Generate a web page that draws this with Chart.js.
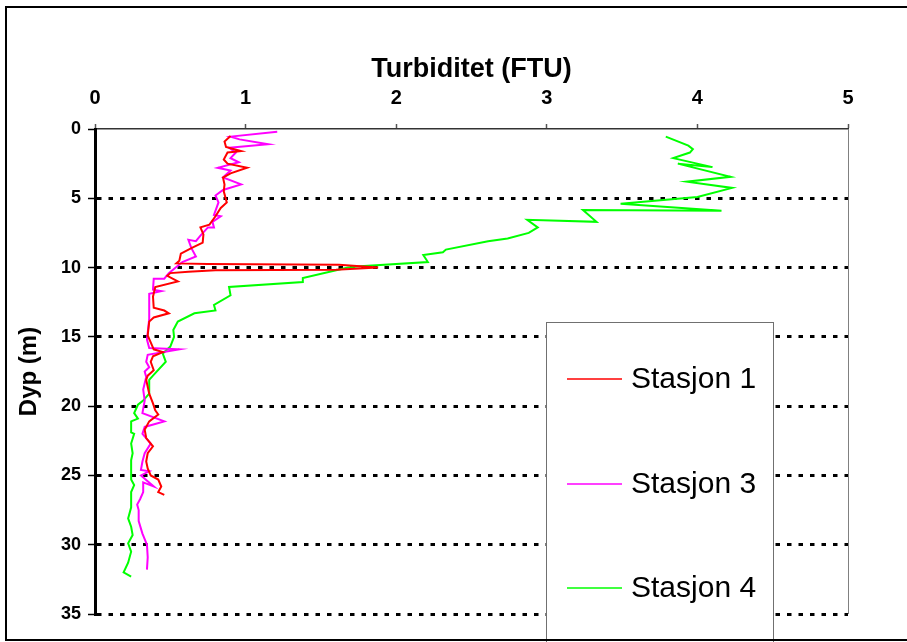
<!DOCTYPE html>
<html>
<head>
<meta charset="utf-8">
<script src="https://cdn.jsdelivr.net/npm/chart.js@4.4.0/dist/chart.umd.min.js"></script>
<style>
  html, body { margin: 0; padding: 0; background: white; }
  #wrap { width: 907px; height: 642px; }
</style>
</head>
<body>
<div id="wrap"><canvas id="turb" width="907" height="642"></canvas></div>
<script>
// depth (m) and turbidity (FTU)
var depth1 = [0.5, 0.9, 1.3, 1.6, 1.7, 2.2, 2.5, 2.8, 3.2, 3.5, 4.0, 4.5, 5.3, 5.7, 6.3, 6.9, 7.1, 7.6, 8.2, 8.6, 9.0, 9.5, 9.7, 9.75, 9.8, 10.0, 10.15, 10.2, 10.3, 10.4, 10.6, 11.0, 11.4, 12.1, 12.9, 13.1, 13.3, 13.6, 13.9, 14.9, 15.4, 15.9, 16.1, 16.4, 16.8, 17.4, 17.8, 18.1, 19.1, 19.8, 20.3, 20.6, 21.1, 21.7, 22.3, 22.9, 23.4, 24.0, 24.5, 25.0, 25.3, 25.8, 26.2, 26.4];
var turb1 = [0.90, 0.86, 0.87, 0.97, 0.88, 0.855, 0.88, 1.01, 0.90, 0.85, 0.86, 0.855, 0.875, 0.835, 0.80, 0.76, 0.70, 0.72, 0.715, 0.64, 0.57, 0.56, 0.54, 0.75, 1.62, 1.88, 1.60, 0.80, 0.62, 0.50, 0.48, 0.55, 0.40, 0.385, 0.39, 0.46, 0.49, 0.39, 0.36, 0.35, 0.37, 0.39, 0.45, 0.385, 0.37, 0.39, 0.35, 0.34, 0.36, 0.385, 0.40, 0.42, 0.36, 0.33, 0.34, 0.385, 0.35, 0.34, 0.35, 0.37, 0.42, 0.44, 0.42, 0.46];

var depth3 = [0.2, 0.55, 0.75, 1.1, 1.35, 1.7, 2.1, 2.4, 2.8, 3.0, 3.5, 4.0, 4.4, 4.8, 5.3, 6.2, 6.3, 6.7, 7.1, 7.1, 7.7, 8.1, 8.0, 8.6, 9.2, 9.6, 10.4, 10.8, 10.8, 11.6, 11.7, 11.9, 13.7, 15.2, 15.8, 15.9, 16.3, 16.8, 17.2, 17.5, 17.9, 18.8, 19.6, 20.5, 21.1, 21.5, 22.0, 22.7, 23.4, 24.0, 24.6, 24.7, 25.0, 25.1, 25.8, 25.5, 26.2, 26.7, 27.1, 27.5, 28.3, 29.2, 30.0, 30.9, 31.8];
var turb3 = [1.21, 0.90, 0.96, 1.15, 0.89, 0.935, 0.90, 0.955, 0.815, 0.90, 0.85, 0.97, 0.85, 0.80, 0.82, 0.79, 0.835, 0.78, 0.79, 0.75, 0.70, 0.67, 0.62, 0.64, 0.67, 0.58, 0.49, 0.46, 0.39, 0.385, 0.44, 0.36, 0.36, 0.345, 0.36, 0.56, 0.35, 0.34, 0.36, 0.33, 0.34, 0.32, 0.33, 0.315, 0.46, 0.33, 0.315, 0.37, 0.33, 0.315, 0.305, 0.36, 0.305, 0.315, 0.39, 0.32, 0.32, 0.30, 0.28, 0.29, 0.29, 0.315, 0.345, 0.35, 0.345];

var depth4 = [0.55, 1.2, 1.45, 1.7, 2.1, 2.75, 2.5, 3.45, 3.8, 4.25, 4.9, 5.4, 5.9, 5.85, 6.7, 6.55, 7.1, 7.5, 7.9, 8.1, 8.7, 8.9, 9.1, 9.6, 9.9, 10.0, 10.75, 11.05, 11.4, 12.0, 12.7, 13.1, 13.3, 13.9, 14.5, 15.0, 15.7, 16.2, 16.8, 17.8, 18.1, 19.1, 19.6, 19.9, 20.5, 20.9, 21.1, 21.9, 22.0, 22.7, 23.4, 23.9, 25.3, 25.7, 26.2, 27.3, 28.1, 28.7, 29.3, 29.9, 30.5, 31.3, 32.0, 32.3];
var turb4 = [3.79, 3.94, 3.97, 3.95, 3.84, 4.10, 3.87, 4.22, 3.93, 4.23, 4.00, 3.49, 4.16, 3.24, 3.33, 2.87, 2.94, 2.88, 2.74, 2.61, 2.33, 2.31, 2.18, 2.21, 1.76, 1.68, 1.38, 1.38, 0.89, 0.90, 0.79, 0.80, 0.66, 0.55, 0.52, 0.525, 0.50, 0.45, 0.47, 0.385, 0.36, 0.36, 0.32, 0.285, 0.26, 0.285, 0.24, 0.24, 0.26, 0.24, 0.25, 0.24, 0.24, 0.26, 0.24, 0.24, 0.22, 0.24, 0.25, 0.22, 0.24, 0.22, 0.19, 0.24];

var seriesNames = ["Stasjon 1", "Stasjon 3", "Stasjon 4"];
var seriesColors = ["#ff0000", "#ff00ff", "#00ff00"];
var depthTicks = [0, 5, 10, 15, 20, 25, 30, 35];
var turbTicks = [0, 1, 2, 3, 4, 5];

function pts(d, t) {
    return d.map(function (v, i) { return {x: t[i], y: v}; });
}

var frame = {
    id: 'frame',
    afterDraw: function (chart) {
        var ctx = chart.ctx, a = chart.chartArea;
        ctx.save();
        // right edge of the plot area
        ctx.strokeStyle = '#808080';
        ctx.lineWidth = 1;
        ctx.beginPath();
        ctx.moveTo(a.right + 0.5, a.top);
        ctx.lineTo(a.right + 0.5, a.bottom);
        ctx.stroke();

        // legend box
        var bx = 546, by = 322, bw = 227, bh = 340;
        ctx.fillStyle = 'white';
        ctx.fillRect(bx, by, bw, bh);
        ctx.strokeStyle = '#707070';
        ctx.lineWidth = 1;
        ctx.strokeRect(bx + 0.5, by + 0.5, bw, bh);
        var rows = [379, 484, 588];
        ctx.font = '30px "Liberation Sans", Arial, sans-serif';
        ctx.textBaseline = 'middle';
        chart.data.datasets.forEach(function (ds, i) {
            ctx.strokeStyle = ds.borderColor;
            ctx.lineWidth = 1.5;
            ctx.beginPath();
            ctx.moveTo(567, rows[i]);
            ctx.lineTo(622, rows[i]);
            ctx.stroke();
            ctx.fillStyle = 'black';
            ctx.fillText(ds.label, 631, rows[i] + 1);
        });

        // outer border
        ctx.strokeStyle = 'black';
        ctx.lineWidth = 2;
        ctx.strokeRect(6, 7, 920, 633);
        ctx.restore();
    }
};

new Chart(document.getElementById("turb"), {
    type: "scatter",
    data: {
        datasets: [0, 1, 2].map(function (i) {
            var d = [depth1, depth3, depth4][i];
            var t = [turb1, turb3, turb4][i];
            return {
                label: seriesNames[i],
                data: pts(d, t),
                showLine: true,
                borderColor: seriesColors[i],
                backgroundColor: seriesColors[i],
                borderWidth: 2,
                pointRadius: 0,
                tension: 0
            };
        })
    },
    options: {
        responsive: false,
        animation: false,
        layout: { padding: { left: 0, top: 0, right: 59, bottom: 28 } },
        plugins: {
            legend: { display: false },
            tooltip: { enabled: false }
        },
        scales: {
            x: {
                type: 'linear',
                position: 'top',
                min: 0,
                max: 5,
                afterFit: function (s) { s.height = 129; },
                afterBuildTicks: function (s) { s.ticks = turbTicks.map(function (v) { return {value: v}; }); },
                title: {
                    display: true,
                    text: 'Turbiditet (FTU)',
                    color: 'black',
                    font: { family: '"Liberation Sans", Arial, sans-serif', size: 27, weight: 'bold' },
                    padding: { top: 53, bottom: 0 }
                },
                grid: {
                    drawOnChartArea: false,
                    tickLength: 5,
                    tickColor: '#555',
                    tickWidth: 1.5
                },
                border: { color: '#333', width: 1.5 },
                ticks: {
                    color: 'black',
                    padding: 14,
                    font: { family: '"Liberation Sans", Arial, sans-serif', size: 20, weight: 'bold' }
                }
            },
            y: {
                type: 'linear',
                reverse: true,
                min: 0,
                max: 35,
                afterFit: function (s) { s.width = 95; },
                afterBuildTicks: function (s) { s.ticks = depthTicks.map(function (v) { return {value: v}; }); },
                title: {
                    display: true,
                    text: 'Dyp (m)',
                    color: 'black',
                    font: { family: '"Liberation Sans", Arial, sans-serif', size: 24, weight: 'bold' },
                    padding: { top: 15, bottom: 0 }
                },
                grid: {
                    color: function (c) { return c.tick && c.tick.value === 0 ? 'rgba(0,0,0,0)' : 'black'; },
                    lineWidth: 3,
                    tickBorderDash: [],
                    tickColor: 'black',
                    tickWidth: 1.5,
                    tickLength: 7
                },
                border: { color: 'black', width: 3, dash: [4.5, 7] },
                ticks: {
                    color: 'black',
                    padding: 7,
                    font: { family: '"Liberation Sans", Arial, sans-serif', size: 18, weight: 'bold' }
                }
            }
        }
    },
    plugins: [frame]
});
</script>
</body>
</html>
